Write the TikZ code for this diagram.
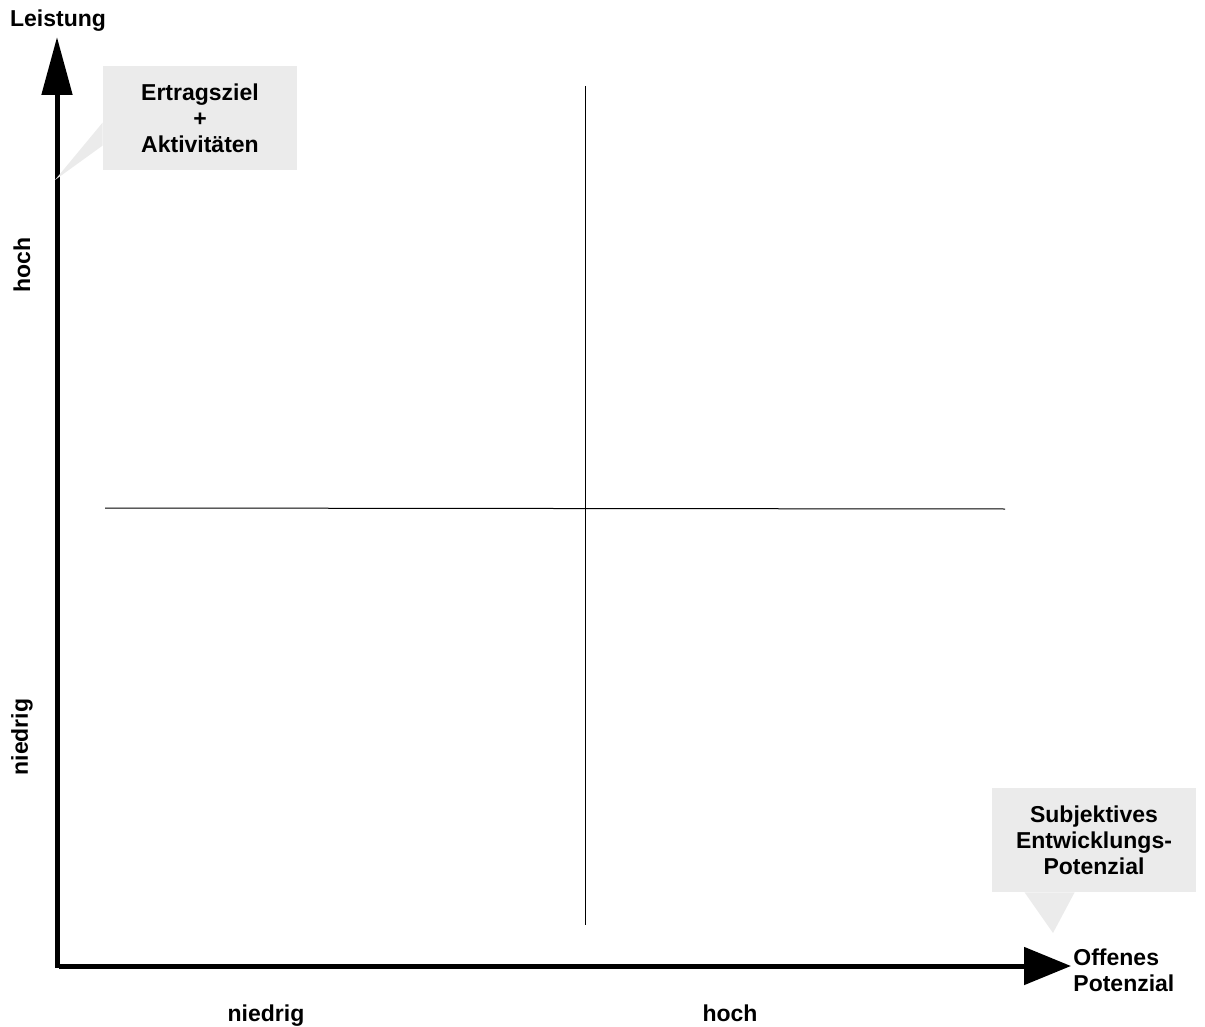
\documentclass[tikz,border=0pt]{standalone}
\usepackage{fontspec}
\setmainfont{Liberation Sans}
\usetikzlibrary{arrows.meta}
\definecolor{colbox}{RGB}{235,235,235}
\tikzset{
  axis/.style={line width=2.5pt},
  grid line/.style={line width=0.5pt},
  txt/.style={font=\fontsize{11.5}{13}\selectfont\bfseries,inner sep=0pt},
  callbox/.style={txt,fill=colbox,align=center,minimum width=97pt,minimum height=52pt}
}

\begin{document}
\begin{tikzpicture}[x=0.5pt,y=-0.5pt]
  \useasboundingbox (0,0) rectangle (1205,1027);

  % the axes
  \coordinate (origin) at (57,966);
  \coordinate (ytip) at (57,37);
  \coordinate (xtip) at (1071,966);
  \draw[axis,-{Triangle[length=29pt,width=15pt]}] ([yshift=-1pt]origin) -- (ytip);
  \draw[axis,-{Triangle[length=23.5pt,width=18.5pt]}] ([xshift=1pt]origin) -- (xtip);

  % the quadrant rules
  \coordinate (hl) at (105,508);
  \coordinate (hr) at (1005,509);
  \coordinate (vt) at (585,86);
  \coordinate (vb) at (585,925);
  \draw[grid line] (hl) -- (hr);
  \draw[grid line] (vt) -- (vb);

  % axis labels
  \node[txt,anchor=base] (lst) at (58,27) {Leistung};
  \node[txt,align=left,anchor=west] (opz) at (1073,970) {Offenes\\Potenzial};
  \node[txt,rotate=90] (yhi) at (22,265) {hoch};
  \node[txt,rotate=90] (ylo) at (22,737) {niedrig};
  \node[txt,anchor=base] (xlo) at (266,1021) {niedrig};
  \node[txt,anchor=base] (xhi) at (730,1021) {hoch};

  % the callouts
  \node[callbox] (erz) at (200,118) {Ertragsziel\\+\\Aktivit\"aten};
  \coordinate (erzp) at (55,180);
  \fill[colbox] ([yshift=-40pt]erz.north west) -- (erzp) -- ([yshift=-28.5pt]erz.north west) -- cycle;

  \node[callbox,minimum width=102pt] (sep) at (1094,840) {Subjektives\\Entwicklungs-\\Potenzial};
  \coordinate (sepp) at (1053,933);
  \fill[colbox] ([xshift=16.5pt]sep.south west) -- (sepp) -- ([xshift=41.5pt]sep.south west) -- cycle;
\end{tikzpicture}
\end{document}
